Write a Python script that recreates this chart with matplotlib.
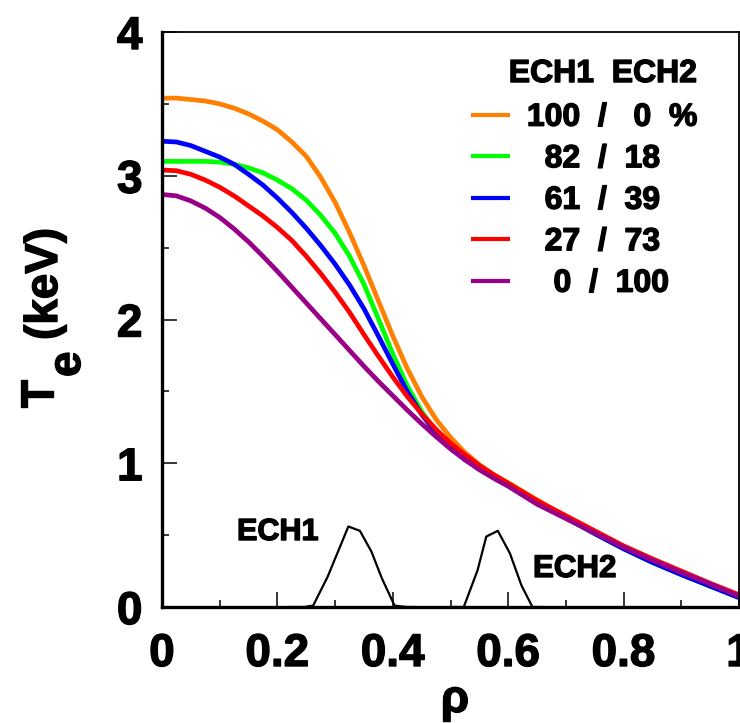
import matplotlib
matplotlib.use("Agg")
import matplotlib.pyplot as plt
import matplotlib.patheffects as pe
from matplotlib.ticker import MultipleLocator, FuncFormatter

plt.rcParams['font.family'] = ['Liberation Sans', 'DejaVu Sans']
plt.rcParams['font.weight'] = 'bold'

# normalised radius grid
rho = [0.0, 0.025, 0.05, 0.075, 0.1, 0.125, 0.15, 0.175, 0.2, 0.225, 0.25, 0.275,
       0.3, 0.325, 0.35, 0.375, 0.4, 0.425, 0.45, 0.475, 0.5, 0.525, 0.55, 0.575,
       0.6, 0.65, 0.7, 0.75, 0.8, 0.85, 0.9, 0.95, 1.0]

# Te profiles (keV) for each ECH1/ECH2 power split
te_100_0 = [3.54, 3.54, 3.53, 3.52, 3.50, 3.47, 3.43, 3.38, 3.32, 3.235, 3.135, 2.99,
            2.815, 2.605, 2.375, 2.13, 1.885, 1.66, 1.465, 1.305, 1.18, 1.075, 0.99, 0.92,
            0.865, 0.745, 0.625, 0.515, 0.41, 0.32, 0.235, 0.155, 0.075]
te_82_18 = [3.10, 3.10, 3.10, 3.10, 3.095, 3.08, 3.055, 3.02, 2.97, 2.91, 2.83, 2.725,
            2.60, 2.44, 2.245, 2.005, 1.76, 1.54, 1.36, 1.22, 1.115, 1.04, 0.975, 0.915,
            0.86, 0.735, 0.62, 0.51, 0.405, 0.31, 0.225, 0.145, 0.065]
te_61_39 = [3.24, 3.235, 3.21, 3.17, 3.13, 3.08, 3.01, 2.935, 2.845, 2.745, 2.635, 2.515,
            2.385, 2.24, 2.075, 1.885, 1.69, 1.50, 1.34, 1.21, 1.105, 1.025, 0.96, 0.905,
            0.85, 0.735, 0.62, 0.51, 0.405, 0.31, 0.225, 0.145, 0.065]
te_27_73 = [3.04, 3.035, 3.01, 2.97, 2.92, 2.86, 2.79, 2.72, 2.64, 2.55, 2.44, 2.32,
            2.19, 2.05, 1.895, 1.745, 1.60, 1.465, 1.345, 1.235, 1.14, 1.06, 0.985, 0.92,
            0.86, 0.74, 0.635, 0.53, 0.425, 0.335, 0.25, 0.165, 0.085]
te_0_100 = [2.87, 2.86, 2.825, 2.775, 2.71, 2.63, 2.54, 2.44, 2.335, 2.225, 2.115, 2.005,
            1.895, 1.785, 1.675, 1.57, 1.47, 1.37, 1.275, 1.185, 1.10, 1.025, 0.955, 0.895,
            0.84, 0.715, 0.615, 0.515, 0.415, 0.325, 0.24, 0.16, 0.075]

labels = ["100  /   0  %", "  82  /  18", "  61  /  39", "  27  /  73", "   0  /  100"]
colors = ["#ff8000", "#00ff00", "#0000ff", "#ff0000", "#990088"]

# ECH deposition profiles (arb. units)
ech1_rho = [0.22, 0.247, 0.262, 0.287, 0.323, 0.343, 0.363, 0.381, 0.403, 0.423, 0.44]
ech1_pow = [0.0, 0.0, 0.01, 0.21, 0.56, 0.53, 0.385, 0.2, 0.01, 0.0, 0.0]
ech2_rho = [0.50, 0.523, 0.547, 0.562, 0.582, 0.603, 0.623, 0.642, 0.66]
ech2_pow = [0.0, 0.0, 0.257, 0.49, 0.53, 0.373, 0.15, 0.0, 0.0]

heavy = [pe.withStroke(linewidth=1.0, foreground='black')]

fig = plt.figure(figsize=(7.4, 7.23), dpi=100)
ax = fig.add_axes([162 / 740, 1 - 607 / 723, 577 / 740, 575 / 723])

series = [te_100_0, te_82_18, te_61_39, te_27_73, te_0_100]
for ys, c, lab in zip(series, colors, labels):
    ax.plot(rho, ys, color=c, lw=3.4, label=lab, solid_capstyle='butt',
            solid_joinstyle='round')

ax.plot(ech1_rho, ech1_pow, color='black', lw=1.6)
ax.plot(ech2_rho, ech2_pow, color='black', lw=1.6)
ax.text(0.130, 0.466, "ECH1", fontsize=22, fontweight='bold', va='baseline',
        path_effects=heavy)
ax.text(0.643, 0.209, "ECH2", fontsize=22.5, fontweight='bold', va='baseline',
        path_effects=heavy)

ax.set_xlim(0, 1)
ax.set_ylim(0, 4)
ax.xaxis.set_major_locator(MultipleLocator(0.2))
ax.xaxis.set_minor_locator(MultipleLocator(0.1))
ax.yaxis.set_major_locator(MultipleLocator(1))
ax.yaxis.set_minor_locator(MultipleLocator(0.5))
ax.xaxis.set_major_formatter(FuncFormatter(lambda v, p: f"{v:g}"))
ax.yaxis.set_major_formatter(FuncFormatter(lambda v, p: f"{v:g}"))
ax.tick_params(which='both', direction='in', top=False, right=False, width=1.1)
ax.tick_params(which='major', length=10.5, labelsize=33)
ax.tick_params(which='minor', length=5)
ax.tick_params(axis='x', which='major', pad=18)
ax.tick_params(axis='y', which='major', pad=14)
for lbl in ax.get_xticklabels() + ax.get_yticklabels():
    lbl.set_fontweight('bold')
    lbl.set_path_effects(heavy)

ax.spines['left'].set_linewidth(2.4)
ax.spines['bottom'].set_linewidth(2.4)
ax.spines['top'].set_linewidth(1.3)
ax.spines['right'].set_linewidth(1.3)

leg = ax.legend(loc='upper left', bbox_to_anchor=(0.5355, 0.877), frameon=False,
                borderpad=0, borderaxespad=0, handlelength=1.22, handletextpad=0.53,
                labelspacing=0.36, prop={'size': 23, 'weight': 'bold'})
for h in leg.get_lines():
    h.set_linewidth(3.0)
for t in leg.get_texts():
    t.set_path_effects(heavy)
ax.text(0.601, 0.913, "ECH1  ECH2", transform=ax.transAxes, fontsize=23,
        fontweight='bold', va='baseline', path_effects=heavy)

# y label built from pieces so the subscript sits like the original
ykw = dict(rotation=90, rotation_mode='anchor', ha='left', va='baseline',
           fontsize=33, fontweight='bold', path_effects=heavy)
fig.text(53 / 740, 1 - 408 / 723, "T", **ykw)
fig.text(80 / 740, 1 - 377 / 723, "e", **ykw)
fig.text(57 / 740, 1 - 340 / 723, "(keV)", **ykw)

fig.text(455 / 740, 1 - 700 / 723, "ρ", ha='center', va='center',
         fontsize=33, fontweight='bold', path_effects=heavy)

fig.savefig("out.png", dpi=100)
